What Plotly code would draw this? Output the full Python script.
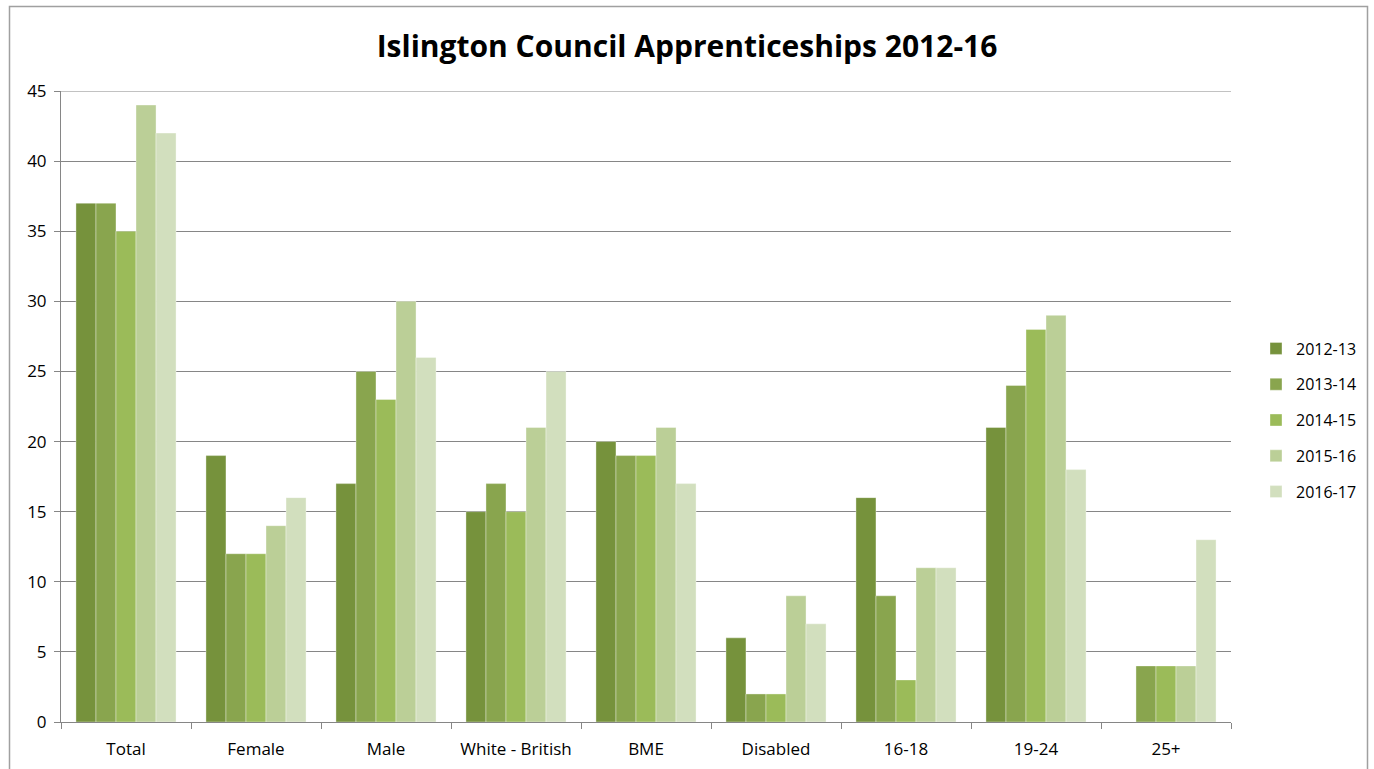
import plotly.graph_objects as go

categories = ["Total", "Female", "Male", "White - British", "BME", "Disabled", "16-18", "19-24", "25+"]
y2012_13 = [37, 19, 17, 15, 20, 6, 16, 21, 0]
y2013_14 = [37, 12, 25, 17, 19, 2, 9, 24, 4]
y2014_15 = [35, 12, 23, 15, 19, 2, 3, 28, 4]
y2015_16 = [44, 14, 30, 21, 21, 9, 11, 29, 4]
y2016_17 = [42, 16, 26, 25, 17, 7, 11, 18, 13]
series_names = ["2012-13", "2013-14", "2014-15", "2015-16", "2016-17"]
colors = ["#76923C", "#89A54E", "#9BBB59", "#BBCF97", "#D2DFBE"]

font = "Open Sans"
fig = go.Figure()
for i, (name, vals) in enumerate(zip(series_names, [y2012_13, y2013_14, y2014_15, y2015_16, y2016_17])):
    fig.add_trace(go.Bar(
        x=categories, y=vals, name=name, legendgroup=name,
        marker=dict(color=colors[i], line=dict(color="rgba(255,255,255,0.6)", width=0.6)),
    ))

W, H = 1374, 769
ml, mr, mt, mb = 61, 143, 91, 47
pw, ph = W - ml - mr, H - mt - mb

def px(x):
    return (x - ml) / pw

def py(y):
    return (H - mb - y) / ph

fig.update_layout(
    width=W, height=H,
    margin=dict(l=ml, r=mr, t=mt, b=mb),
    paper_bgcolor="white", plot_bgcolor="white",
    barmode="group", bargap=0.23, bargroupgap=0,
    font=dict(family=font, size=16, color="black"),
    title=dict(text="<b>Islington Council Apprenticeships 2012-16</b>",
               x=0.5, xref="container", xanchor="center", y=1 - 46 / H, yanchor="middle",
               font=dict(family=font, size=30, color="black")),
    legend=dict(x=px(1256), xanchor="left", y=py(420), yanchor="middle",
                traceorder="grouped", tracegroupgap=12,
                font=dict(family=font, size=16), itemwidth=30, bgcolor="rgba(0,0,0,0)"),
    shapes=[dict(type="rect", xref="paper", yref="paper",
                 x0=px(9.5), x1=px(1367.5), y0=py(790), y1=py(6.5),
                 line=dict(color="#A0A0A0", width=1.5), fillcolor="rgba(0,0,0,0)", layer="below"),
            dict(type="line", xref="paper", yref="y", x0=0, x1=1, y0=45, y1=45,
                 line=dict(color="#868686", width=1), layer="below")],
)
fig.update_xaxes(type="category", showline=True, linecolor="#868686", linewidth=1,
                 ticks="outside", tickson="boundaries", ticklen=6, tickcolor="#868686",
                 showgrid=False, tickfont=dict(family=font, size=17), ticklabelstandoff=12,
                 automargin=False)
fig.update_yaxes(range=[0, 45], dtick=5, showline=True, linecolor="#868686", linewidth=1,
                 ticks="outside", ticklen=6, tickcolor="#868686",
                 showgrid=True, gridcolor="#868686", gridwidth=1, zeroline=False,
                 tickfont=dict(family=font, size=17), ticklabelstandoff=4, automargin=False)

fig.write_html("out.html")
